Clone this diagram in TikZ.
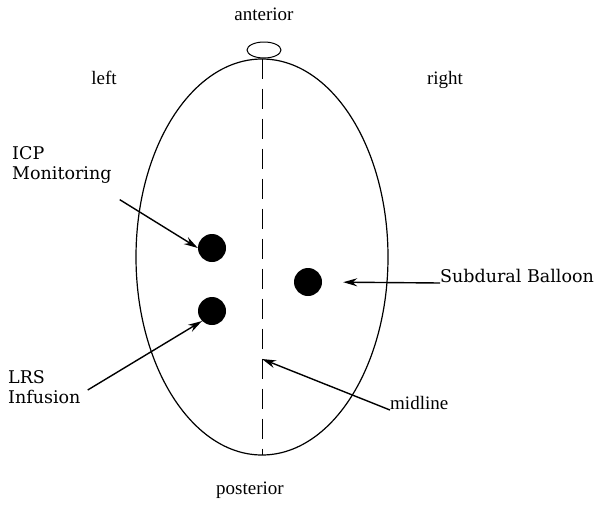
\documentclass[tikz,border=0pt]{standalone}
\usepackage{fontspec}
\setmainfont{Liberation Serif}
\newfontfamily\labelfont{DejaVu Serif}
\usepackage{tikz}
\usetikzlibrary{positioning, arrows.meta, shapes.geometric}

\begin{document}
\begin{tikzpicture}[
  x=1pt, y=-1pt,
  font=\fontsize{19}{21}\selectfont,
  site/.style={circle, fill=black, minimum size=28pt, inner sep=0pt},
  biglabel/.style={font=\labelfont\fontsize{17.5}{20}\selectfont, align=left, inner sep=0pt},
  arrow/.style={-{Stealth[length=14pt, width=8pt]}, line width=1.4pt},
]
\useasboundingbox (0,0) rectangle (599,506);

\node[ellipse, draw, line width=1.2pt, minimum width=252pt, minimum height=396pt, inner sep=0pt] (head) at (262,257) {};
\node[ellipse, draw, line width=1pt, minimum width=34pt, minimum height=16pt, inner sep=0pt] (nose) at (264,50) {};
\coordinate (back) at (262,455);
\coordinate (mid) at (262,359);
\draw[line width=1pt, dash pattern=on 20pt off 10pt] (nose.south -| back) -- (back);

\node (ant) at (264,14) {anterior};
\node (post) at (250,490) {posterior};
\node (lft) at (104,78) {left};
\node (rgt) at (445,80) {right};

\node[site] (icpdot) at (212,248) {};
\node[site] (lrsdot) at (212,311) {};
\node[site] (subdot) at (308,282) {};

\node[biglabel, anchor=west] (icp) at (12,165) {ICP\\Monitoring};
\node[biglabel, anchor=west] (lrs) at (8,387) {LRS\\Infusion};
\node[biglabel, anchor=south west] (sub) at (440,283) {Subdural Balloon};
\node[anchor=south west, inner sep=0pt] (mln) at (390,410) {midline};

\draw[arrow] (icp.south east) ++(8,16) coordinate (icpstart) -- (icpdot.west);
\draw[arrow] (lrs.east) ++(7,3) coordinate (lrsstart) -- (lrsdot.south west);
\draw[arrow, shorten >=21pt] (sub.south west) -- (subdot.east);
\draw[arrow] (mln.south west) -- (mid);
\end{tikzpicture}
\end{document}
